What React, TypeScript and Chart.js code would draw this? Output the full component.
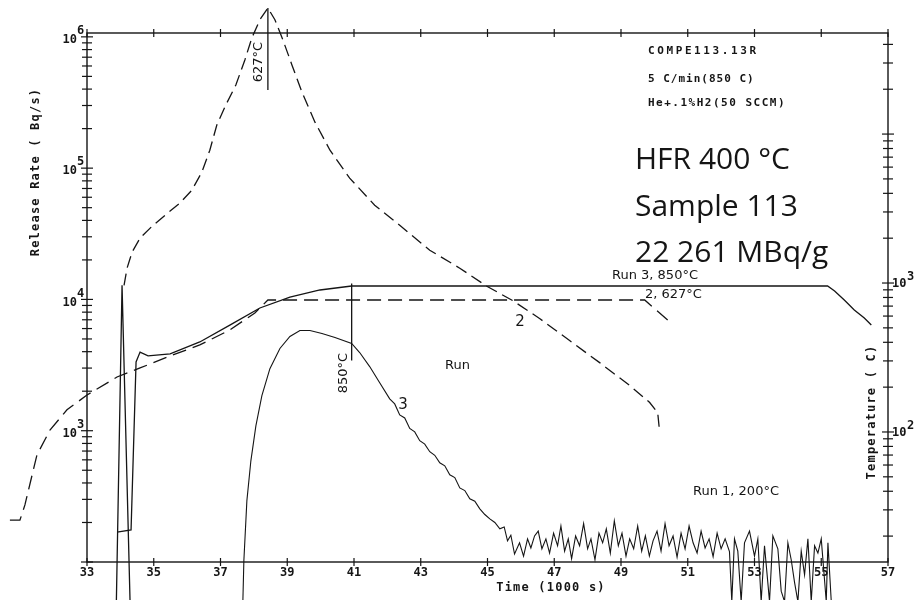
import React, { useEffect, useRef } from "react";
import { Chart, registerables } from "chart.js";
Chart.register(...registerables);

// ---------- axis ticks ----------
const timeTicks = [33, 35, 37, 39, 41, 43, 45, 47, 49, 51, 53, 55, 57];
const rateLabelTicks = [1e3, 1e4, 1e5, 1e6];
const tempLabelTicks = [100, 1000];
const timeRange = [33, 57];
const rateRange = [100, 1.07e6];
const tempRange = [13.4, 47700];

// ---------- curve 2 : release rate, 627 °C run (dashed) ----------
const curve2Time = [34.11, 34.2, 34.35, 34.59, 34.95, 35.34, 35.78, 36.14, 36.44, 36.68, 36.89, 37.16, 37.46, 37.73, 37.94, 38.18, 38.42, 38.63, 38.87, 39.14, 39.44, 39.83, 40.28, 40.87, 41.62, 42.37, 43.27, 44.17, 44.98, 45.75, 46.56, 47.46, 48.36, 49.26, 49.86, 50.1, 50.16];
const curve2Rate = [12800, 17300, 22900, 29300, 36100, 43800, 54100, 67900, 93100, 137000, 213000, 303000, 430000, 667000, 982000, 1350000, 1660000, 1350000, 948000, 611000, 380000, 224000, 137000, 84000, 52200, 36700, 23700, 17300, 12600, 9820, 7160, 4860, 3300, 2210, 1640, 1370, 966];

// ---------- curve 3 : release rate, 850 °C run (solid) ----------
const curve3Time = [37.67, 37.7, 37.79, 37.91, 38.06, 38.24, 38.48, 38.78, 39.08, 39.38, 39.68, 40.04, 40.43, 40.93, 41.17, 41.47, 41.77, 42.07, 42.22, 42.37, 42.52, 42.67, 42.82, 42.97, 43.12, 43.27, 43.42, 43.57, 43.72, 43.87, 44.02, 44.17, 44.32, 44.47, 44.62, 44.77, 44.92, 45.07, 45.22, 45.37, 45.5, 45.6, 45.7, 45.81,
  45.96, 46.08, 46.2, 46.3, 46.41, 46.52, 46.63, 46.75, 46.86, 46.98, 47.1, 47.2, 47.31, 47.42, 47.52, 47.64, 47.76, 47.88, 48.0, 48.1, 48.22, 48.34, 48.45, 48.56, 48.68, 48.8, 48.92, 49.03, 49.15, 49.26, 49.38, 49.5, 49.62, 49.73, 49.85, 49.96, 50.08, 50.2, 50.32, 50.44, 50.56, 50.68, 50.8, 50.92, 51.04, 51.16, 51.28, 51.4, 51.52, 51.64, 51.76, 51.88, 52.0, 52.12, 52.25, 52.32, 52.4, 52.5, 52.6, 52.7, 52.85, 53.0, 53.1, 53.2, 53.3, 53.45, 53.55, 53.7, 53.8, 53.9, 54.0, 54.1, 54.2, 54.3, 54.4, 54.5, 54.6, 54.7, 54.8, 54.9, 55.0, 55.15, 55.2, 55.3];
const curve3Rate = [50, 102, 292, 590, 1090, 1850, 2970, 4230, 5220, 5800, 5800, 5500, 5130, 4620, 3940, 3080, 2320, 1750, 1600, 1320, 1250, 1040, 980, 839, 790, 692, 650, 570, 540, 462, 440, 367, 350, 303, 290, 254, 230, 213, 200, 179, 185, 145, 160, 115,
  140, 111, 150, 128, 158, 172, 126, 150, 117, 166, 133, 188, 121, 150, 106, 158, 133, 196, 126, 150, 104, 166, 140, 179, 117, 206, 133, 166, 111, 150, 126, 188, 121, 158, 111, 145, 172, 121, 196, 133, 158, 109, 166, 126, 188, 140, 117, 172, 128, 150, 110, 166, 126, 150, 120, 50, 150, 121, 50, 140, 172, 111, 150, 50, 133, 50, 158, 126, 60, 50, 140, 104, 70, 50, 121, 80, 150, 50, 133, 117, 150, 50, 140, 50];

// ---------- run 1 : release spike ----------
const run1Time = [33.88, 34.05, 34.29];
const run1Rate = [50, 12800, 50];

// ---------- temperatures ----------
const run3TempTime = [33.9, 34.32, 34.47, 34.59, 34.83, 35.49, 36.38, 37.28, 38.18, 39.08, 39.98, 40.93, 55.19, 55.4, 55.69, 55.99, 56.29, 56.5];
const run3Temp = [21.3, 22.0, 295, 344, 324, 334, 402, 522, 680, 805, 898, 955, 955, 884, 769, 659, 583, 522];
const run2TempTime = [30.69, 30.99, 31.14, 31.5, 31.89, 32.4, 33.0, 33.9, 34.59, 35.57, 36.38, 37.28, 38.03, 38.42, 49.71, 50.4];
const run2Temp = [25.6, 25.6, 32.4, 70.1, 103, 141, 177, 234, 269, 329, 384, 484, 630, 769, 769, 565];

// ---------- marker lines (time of max temperature) ----------
const marker627Time = [38.42, 38.42];
const marker627Rate = [1660000, 394000];
const marker850Time = [40.93, 40.93];
const marker850Rate = [13200, 3420];

const INK = "#151515";
const MONO = '"DejaVu Sans Mono", monospace';

const zip = (xs: number[], ys: number[]) => xs.map((x, i) => ({ x, y: ys[i] }));

function logTicks(min: number, max: number) {
  const out: { value: number }[] = [];
  for (let e = -1; e < 8; e++) {
    for (let m = 1; m < 10; m++) {
      const v = m * Math.pow(10, e);
      if (v >= min * 0.999 && v <= max * 1.001) out.push({ value: v });
    }
  }
  return out;
}
const isPow10 = (v: number) => Math.abs(Math.log10(v) - Math.round(Math.log10(v))) < 1e-9;
const inSet = (v: number, set: number[]) => set.some((s) => Math.abs(s - v) / s < 1e-9);

const decorPlugin = {
  id: "decor",
  afterDraw(chart: any) {
    const { ctx, chartArea: a, scales } = chart;
    ctx.save();
    ctx.strokeStyle = INK;
    ctx.fillStyle = INK;
    ctx.lineWidth = 1.4;
    ctx.strokeRect(a.left, a.top, a.right - a.left, a.bottom - a.top);
    const seg = (x1: number, y1: number, x2: number, y2: number) => {
      ctx.beginPath();
      ctx.moveTo(x1, y1);
      ctx.lineTo(x2, y2);
      ctx.stroke();
    };
    const text = (s: string, x: number, y: number, font: string, align: CanvasTextAlign = "left", rot = 0, spacing = "0px") => {
      ctx.save();
      ctx.font = font;
      (ctx as any).letterSpacing = spacing;
      ctx.textAlign = align;
      ctx.textBaseline = "middle";
      ctx.translate(x, y);
      if (rot) ctx.rotate(rot);
      ctx.fillText(s, 0, 0);
      ctx.restore();
    };
    ctx.lineWidth = 1.2;
    scales.x.ticks.forEach((t: any) => {
      const px = scales.x.getPixelForValue(t.value);
      seg(px, a.bottom - 4, px, a.bottom + 4);
      seg(px, a.top - 4, px, a.top + 4);
    });
    // left axis: crosses and 10^n labels
    scales.y.ticks.forEach((t: any) => {
      const py = scales.y.getPixelForValue(t.value);
      const l = isPow10(t.value) ? 6 : 5;
      seg(a.left - l, py, a.left + l, py);
      if (inSet(t.value, rateLabelTicks)) {
        text("10", a.left - 10, py + 3, `bold 12px ${MONO}`, "right");
        text(String(Math.round(Math.log10(t.value))), a.left - 10, py - 6, `bold 12px ${MONO}`, "left");
      }
    });
    scales.yT.ticks.forEach((t: any) => {
      const py = scales.yT.getPixelForValue(t.value);
      const l = isPow10(t.value) ? 6 : 5;
      seg(a.right - l, py, a.right + l, py);
      if (inSet(t.value, tempLabelTicks)) {
        text("10", a.right + 4, py + 1, `bold 12px ${MONO}`, "left");
        text(String(Math.round(Math.log10(t.value))), a.right + 19, py - 6, `bold 12px ${MONO}`, "left");
      }
    });

    // axis titles
    text("Release Rate ( Bq/s)", 36, 172, `bold 12px ${MONO}`, "center", -Math.PI / 2, "1.2px");
    text("Temperature ( C)", 872, 412, `bold 12px ${MONO}`, "center", -Math.PI / 2, "1.2px");
    text("Time (1000 s)", 551, 588, `bold 12px ${MONO}`, "center", 0, "1.2px");
    // header
    text("COMPE113.13R", 648, 51, `bold 11px ${MONO}`, "left", 0, "2.6px");
    text("5 C/min(850 C)", 648, 79, `bold 11px ${MONO}`, "left", 0, "1px");
    text("He+.1%H2(50 SCCM)", 648, 103, `bold 11px ${MONO}`, "left", 0, "1.5px");
    // sample info
    text("HFR 400 °C", 635, 160, '30px "Open Sans"');
    text("Sample 113", 635, 207, '30px "Open Sans"');
    text("22 261 MBq/g", 635, 253, '30px "Open Sans"');
    // handwritten notes
    const hand = '13px "DejaVu Sans"';
    text("627°C", 259, 62, hand, "center", -Math.PI / 2);
    text("850°C", 344, 373, hand, "center", -Math.PI / 2);
    text("Run 3, 850°C", 612, 276, hand);
    text("2, 627°C", 645, 295, hand);
    text("2", 520, 322, '15px "DejaVu Sans"', "center");
    text("3", 403, 405, '15px "DejaVu Sans"', "center");
    text("Run", 445, 366, hand);
    text("Run 1, 200°C", 693, 492, hand);
    ctx.restore();
  },
};

export default function App() {
  const ref = useRef<HTMLCanvasElement | null>(null);
  useEffect(() => {
    document.body.style.margin = "0";
    const line = (data: any[], axis: string, dash: number[] = [], width = 1.3) => ({
      data,
      yAxisID: axis,
      borderColor: INK,
      borderWidth: width,
      borderDash: dash,
      pointRadius: 0,
      tension: 0,
      fill: false,
      clip: false as any,
    });
    const chart = new Chart(ref.current as HTMLCanvasElement, {
      type: "line",
      data: {
        datasets: [
          line(zip(curve2Time, curve2Rate), "y", [12, 6]),
          line(zip(curve3Time, curve3Rate), "y", [], 1.1),
          line(zip(run1Time, run1Rate), "y"),
          line(zip(run3TempTime, run3Temp), "yT"),
          line(zip(run2TempTime, run2Temp), "yT", [14, 7]),
          line(zip(marker627Time, marker627Rate), "y"),
          line(zip(marker850Time, marker850Rate), "y"),
        ] as any,
      },
      options: {
        animation: false,
        responsive: false,
        devicePixelRatio: 1,
        layout: { padding: { top: 33, left: 0, right: 0, bottom: 0 } },
        plugins: { legend: { display: false }, tooltip: { enabled: false } },
        scales: {
          x: {
            type: "linear",
            bounds: "data",
            afterDataLimits: (s: any) => {
              s.min = timeRange[0];
              s.max = timeRange[1];
            },
            afterBuildTicks: (s: any) => {
              s.min = timeRange[0];
              s.max = timeRange[1];
              s.ticks = timeTicks.map((v) => ({ value: v }));
            },
            afterFit: (s: any) => {
              s.height = 38;
            },
            grid: { display: false, drawTicks: false },
            border: { display: false },
            ticks: { autoSkip: false, maxRotation: 0, padding: 4, color: INK, font: { family: "DejaVu Sans Mono", size: 12, weight: "bold" } },
          },
          y: {
            type: "logarithmic",
            position: "left",
            min: rateRange[0],
            max: rateRange[1],
            afterBuildTicks: (s: any) => {
              s.ticks = logTicks(rateRange[0], rateRange[1]);
            },
            afterFit: (s: any) => {
              s.width = 87;
            },
            grid: { display: false, drawTicks: false },
            border: { display: false },
            ticks: { display: false, autoSkip: false },
          },
          yT: {
            type: "logarithmic",
            position: "right",
            min: tempRange[0],
            max: tempRange[1],
            afterBuildTicks: (s: any) => {
              s.ticks = logTicks(tempRange[0], tempRange[1]);
            },
            afterFit: (s: any) => {
              s.width = 34;
            },
            grid: { display: false, drawTicks: false },
            border: { display: false },
            ticks: { display: false, autoSkip: false },
          },
        },
      } as any,
      plugins: [decorPlugin as any],
    });
    return () => chart.destroy();
  }, []);
  return (
    <div style={{ position: "fixed", left: 0, top: 0, width: 922, height: 600, background: "#fff" }}>
      <canvas ref={ref} width={922} height={600} style={{ display: "block", width: 922, height: 600 }} />
    </div>
  );
}
